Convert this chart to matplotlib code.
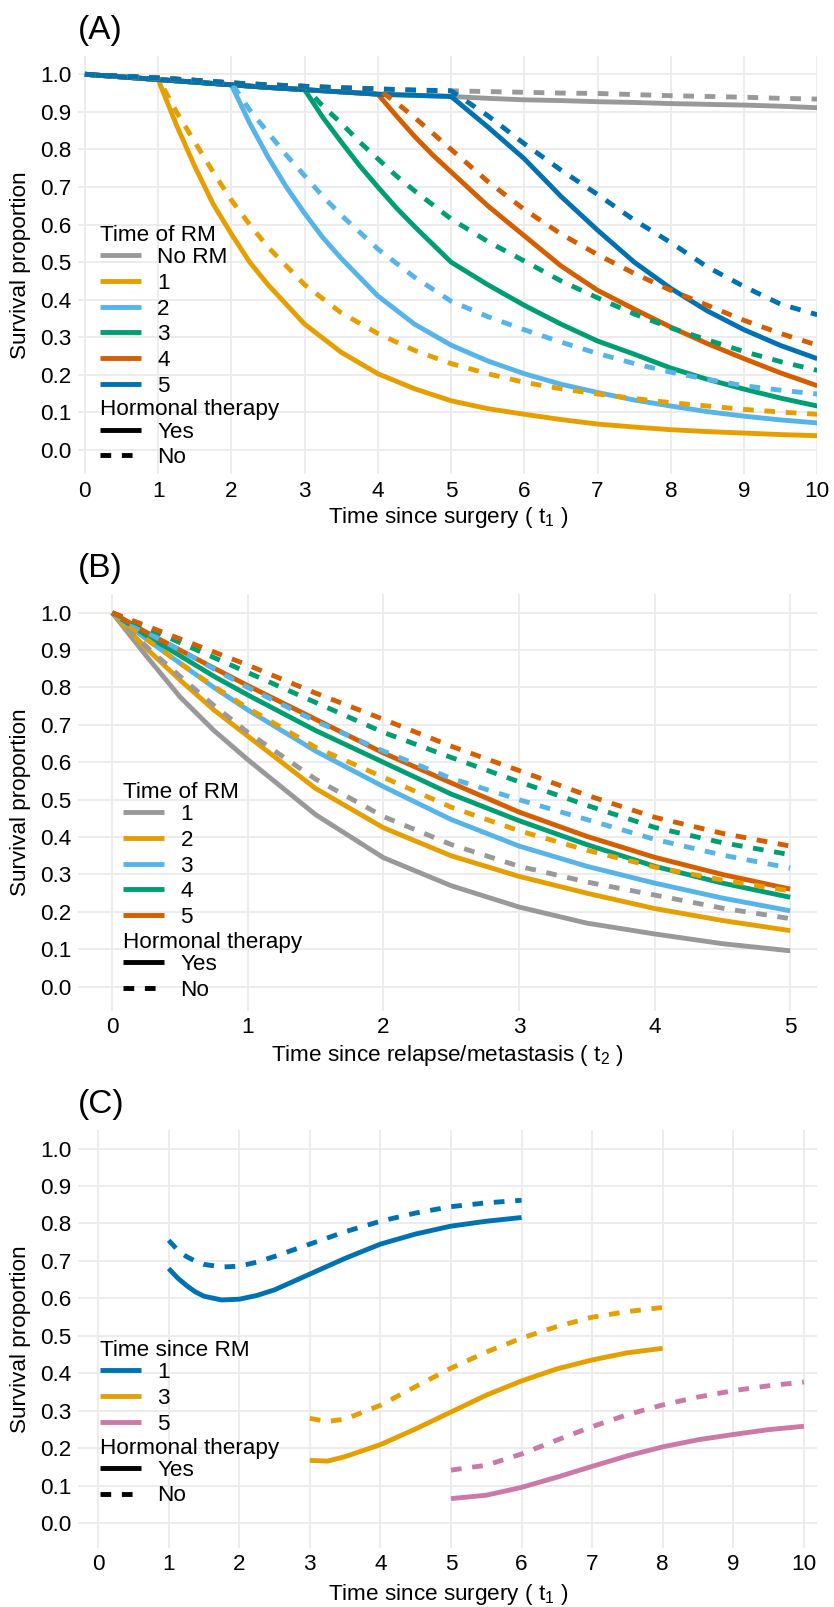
import matplotlib.pyplot as plt
from matplotlib.lines import Line2D
from matplotlib import transforms

plt.rcParams['font.family'] = ['Liberation Sans', 'DejaVu Sans']
plt.rcParams['mathtext.default'] = 'regular'

# Okabe-Ito colours
GREY = '#999999'
ORANGE = '#E69F00'
SKY = '#56B4E9'
GREEN = '#009E73'
VERMILLION = '#D55E00'
BLUE = '#0072B2'
PINK = '#CC79A7'

# ---------------- panel A: survival by time of RM ----------------
time_a = [0, 0.5, 1, 1.5, 2, 2.5, 3, 3.5, 4, 4.5, 5,
          5.5, 6, 6.5, 7, 7.5, 8, 8.5, 9, 9.5, 10]
norm_yes = [1.0, 0.993, 0.986, 0.979, 0.972, 0.965, 0.959, 0.953, 0.947, 0.944, 0.941,
            0.936, 0.932, 0.930, 0.927, 0.925, 0.922, 0.920, 0.918, 0.915, 0.911]
norm_no = [1.0, 0.995, 0.990, 0.984, 0.977, 0.972, 0.968, 0.964, 0.961, 0.958, 0.956,
           0.954, 0.952, 0.950, 0.949, 0.946, 0.943, 0.941, 0.939, 0.936, 0.934]

# curves after the RM time
rm1_t = [1.25, 1.5, 1.75, 2, 2.25, 2.5, 3, 3.5, 4, 4.5, 5, 5.5, 6, 6.5, 7, 7.5, 8, 8.5, 9, 9.5, 10]
rm1_yes = [0.865, 0.755, 0.655, 0.575, 0.5, 0.44, 0.335, 0.26, 0.203, 0.163, 0.131,
           0.11, 0.095, 0.081, 0.069, 0.061, 0.054, 0.049, 0.045, 0.041, 0.038]
rm1_no = [0.9, 0.82, 0.74, 0.665, 0.6, 0.54, 0.44, 0.365, 0.31, 0.265, 0.23,
          0.203, 0.18, 0.163, 0.149, 0.137, 0.126, 0.117, 0.108, 0.101, 0.095]
rm2_t = [2.25, 2.5, 2.75, 3, 3.25, 3.5, 4, 4.5, 5, 5.5, 6, 6.5, 7, 7.5, 8, 8.5, 9, 9.5, 10]
rm2_yes = [0.87, 0.78, 0.7, 0.63, 0.565, 0.51, 0.41, 0.335, 0.279, 0.237,
           0.203, 0.175, 0.153, 0.133, 0.117, 0.102, 0.09, 0.08, 0.072]
rm2_no = [0.905, 0.845, 0.785, 0.73, 0.675, 0.625, 0.535, 0.46, 0.396, 0.355,
          0.32, 0.287, 0.257, 0.23, 0.207, 0.188, 0.171, 0.159, 0.149]
rm3_t = [3.25, 3.5, 3.75, 4, 4.25, 4.5, 5, 5.5, 6, 6.5, 7, 7.5, 8, 8.5, 9, 9.5, 10]
rm3_yes = [0.885, 0.82, 0.757, 0.70, 0.645, 0.595, 0.50, 0.44, 0.385, 0.335,
           0.29, 0.255, 0.218, 0.188, 0.162, 0.138, 0.117]
rm3_no = [0.915, 0.87, 0.82, 0.775, 0.73, 0.69, 0.615, 0.555, 0.503, 0.45,
          0.405, 0.362, 0.325, 0.293, 0.262, 0.235, 0.212]
rm4_t = [4.25, 4.5, 4.75, 5, 5.5, 6, 6.5, 7, 7.5, 8, 8.5, 9, 9.5, 10]
rm4_yes = [0.89, 0.835, 0.785, 0.74, 0.65, 0.57, 0.49, 0.425, 0.375, 0.327, 0.283, 0.243, 0.205, 0.171]
rm4_no = [0.925, 0.885, 0.843, 0.80, 0.715, 0.64, 0.575, 0.52, 0.47, 0.425, 0.385, 0.345, 0.31, 0.279]
rm5_t = [5.5, 6, 6.5, 7, 7.5, 8, 8.5, 9, 9.5, 10]
rm5_yes = [0.86, 0.775, 0.675, 0.585, 0.50, 0.43, 0.37, 0.32, 0.278, 0.243]
rm5_no = [0.89, 0.815, 0.745, 0.68, 0.612, 0.552, 0.487, 0.435, 0.388, 0.36]
rm_times = [1, 2, 3, 4, 5]
labels_a = ['No RM', '1', '2', '3', '4', '5']
colors_a = [GREY, ORANGE, SKY, GREEN, VERMILLION, BLUE]

# ---------------- panel B: survival after relapse/metastasis ----------------
time_b = [0, 0.25, 0.5, 0.75, 1, 1.5, 2, 2.5, 3, 3.5, 4, 4.5, 5]
b_yes = [
    [1.0, 0.885, 0.775, 0.685, 0.607, 0.46, 0.345, 0.27, 0.213, 0.17, 0.141, 0.115, 0.096],
    [1.0, 0.905, 0.82, 0.74, 0.67, 0.53, 0.425, 0.35, 0.295, 0.25, 0.209, 0.177, 0.15],
    [1.0, 0.93, 0.865, 0.8, 0.74, 0.63, 0.535, 0.447, 0.376, 0.322, 0.277, 0.237, 0.203],
    [1.0, 0.94, 0.885, 0.83, 0.78, 0.685, 0.6, 0.515, 0.444, 0.38, 0.322, 0.277, 0.239],
    [1.0, 0.948, 0.9, 0.852, 0.805, 0.715, 0.625, 0.545, 0.467, 0.402, 0.346, 0.3, 0.261],
]
b_no = [
    [1.0, 0.91, 0.83, 0.752, 0.68, 0.555, 0.455, 0.38, 0.322, 0.28, 0.245, 0.21, 0.182],
    [1.0, 0.93, 0.865, 0.803, 0.745, 0.64, 0.56, 0.48, 0.417, 0.365, 0.32, 0.285, 0.256],
    [1.0, 0.948, 0.9, 0.85, 0.8, 0.71, 0.63, 0.557, 0.5, 0.447, 0.394, 0.352, 0.317],
    [1.0, 0.96, 0.92, 0.88, 0.84, 0.76, 0.68, 0.613, 0.548, 0.485, 0.426, 0.385, 0.353],
    [1.0, 0.965, 0.93, 0.895, 0.86, 0.785, 0.715, 0.643, 0.578, 0.512, 0.453, 0.41, 0.376],
]
labels_b = ['1', '2', '3', '4', '5']
colors_b = [GREY, ORANGE, SKY, GREEN, VERMILLION]

# ---------------- panel C: conditional survival by time since RM ----------------
time_c1 = [1, 1.125, 1.25, 1.375, 1.5, 1.75, 2, 2.25, 2.5, 3, 3.5, 4, 4.5, 5, 5.5, 6]
c1_yes = [0.68, 0.655, 0.635, 0.618, 0.606, 0.596, 0.598, 0.608, 0.623,
          0.665, 0.707, 0.745, 0.772, 0.793, 0.806, 0.816]
c1_no = [0.755, 0.73, 0.712, 0.7, 0.691, 0.684, 0.686, 0.697, 0.712,
         0.745, 0.778, 0.806, 0.828, 0.845, 0.855, 0.862]
time_c3 = [3, 3.25, 3.5, 4, 4.5, 5, 5.5, 6, 6.5, 7, 7.5, 8]
c3_yes = [0.168, 0.166, 0.178, 0.21, 0.252, 0.297, 0.342, 0.38, 0.412, 0.436, 0.455, 0.467]
c3_no = [0.28, 0.272, 0.278, 0.315, 0.365, 0.414, 0.457, 0.494, 0.525, 0.55, 0.565, 0.576]
time_c5 = [5, 5.5, 6, 6.5, 7, 7.5, 8, 8.5, 9, 9.5, 10]
c5_yes = [0.066, 0.075, 0.096, 0.123, 0.152, 0.18, 0.204, 0.223, 0.237, 0.25, 0.259]
c5_no = [0.142, 0.155, 0.185, 0.222, 0.258, 0.29, 0.316, 0.337, 0.354, 0.367, 0.377]
labels_c = ['1', '3', '5']
colors_c = [BLUE, ORANGE, PINK]

y_ticks = [i / 10 for i in range(11)]

# ---------------- figure ----------------
W, H = 834, 1607
FS = 16.2
LW = 3.5
DASH = (0, (2.2, 2.2))

fig = plt.figure(figsize=(W / 100, H / 100), dpi=100)


def panel(top, bottom, xlim, ylim, xticks, xlabel, lab_top, letter, letter_y):
    left, right = 78.3, 817.3
    ax = fig.add_axes([left / W, 1 - bottom / H, (right - left) / W, (bottom - top) / H])
    for s in ax.spines.values():
        s.set_visible(False)
    ax.grid(True, color='#EBEBEB', lw=1.3)
    ax.set_axisbelow(True)
    ax.set_xlim(*xlim)
    ax.set_ylim(*ylim)
    ax.set_xticks(xticks)
    ax.set_yticks(y_ticks)
    ax.set_yticklabels([f'{v:.1f}' for v in y_ticks])
    ax.tick_params(length=0, labelsize=FS, labelcolor='black')
    ax.tick_params(axis='y', pad=4.9)
    ax.tick_params(axis='x', pad=4.5)
    ax.set_xlabel(xlabel, fontsize=FS)
    ax.set_ylabel('Survival proportion', fontsize=FS)
    ax.xaxis.set_label_coords(0.5, 1 - lab_top / H,
                              transform=transforms.blended_transform_factory(ax.transAxes, fig.transFigure))
    ax.yaxis.set_label_coords(31 / W, 0.5,
                              transform=transforms.blended_transform_factory(fig.transFigure, ax.transAxes))
    fig.text(left / W, 1 - letter_y / H, letter, fontsize=24, va='center', ha='left')
    return ax


def solid(ax, x, y, c):
    ax.plot(x, y, color=c, lw=LW, solid_capstyle='butt', solid_joinstyle='round')


def dashed(ax, x, y, c):
    ax.plot(x, y, color=c, lw=LW, linestyle=DASH, dash_capstyle='butt')


def legends(ax, title, labels, colors, x, top1, top2):
    kw = dict(loc='upper left', bbox_transform=fig.transFigure, frameon=False,
              fontsize=FS, title_fontsize=FS, alignment='left', handlelength=1.8,
              handletextpad=0.75, borderpad=0, borderaxespad=0, labelspacing=0.21)
    hs = [Line2D([], [], color=c, lw=LW, solid_capstyle='butt') for c in colors]
    leg = ax.legend(hs, labels, title=title, bbox_to_anchor=(x / W, 1 - top1 / H), **kw)
    leg._legend_box.sep = 0.8  # tighter gap under the legend title
    ax.add_artist(leg)
    ht = [Line2D([], [], color='black', lw=LW, solid_capstyle='butt'),
          Line2D([], [], color='black', lw=LW, linestyle=DASH, dash_capstyle='butt')]
    leg2 = ax.legend(ht, ['Yes', 'No'], title='Hormonal therapy',
                     bbox_to_anchor=(x / W, 1 - top2 / H), **kw)
    leg2._legend_box.sep = 0.8


# ---- (A) ----
ax = panel(55.5, 474.4, (-0.09, 10.0), (-0.065, 1.05), range(0, 11),
           'Time since surgery ( $t_1$ )', 505, '(A)', 31)
after_t = [rm1_t, rm2_t, rm3_t, rm4_t, rm5_t]
after_yes = [rm1_yes, rm2_yes, rm3_yes, rm4_yes, rm5_yes]
after_no = [rm1_no, rm2_no, rm3_no, rm4_no, rm5_no]
full_t = [time_a] + [time_a[:2 * k + 1] + t for k, t in zip(rm_times, after_t)]
full_yes = [norm_yes] + [norm_yes[:2 * k + 1] + v for k, v in zip(rm_times, after_yes)]
full_no = [norm_no] + [norm_no[:2 * k + 1] + v for k, v in zip(rm_times, after_no)]
for t, y, c in zip(full_t, full_yes, colors_a):
    solid(ax, t, y, c)
for t, y, c in zip(full_t, full_no, colors_a):
    dashed(ax, t, y, c)
legends(ax, 'Time of RM', labels_a, colors_a, 100, 225, 399.4)

# ---- (B) ----
ax = panel(594, 1011, (-0.25, 5.2), (-0.065, 1.05), range(0, 6),
           'Time since relapse/metastasis ( $t_2$ )', 1043, '(B)', 569)
for y, c in zip(b_yes, colors_b):
    solid(ax, time_b, y, c)
for y, c in zip(b_no, colors_b):
    dashed(ax, time_b, y, c)
legends(ax, 'Time of RM', labels_b, colors_b, 123, 782, 931.7)

# ---- (C) ----
ax = panel(1129.8, 1547.7, (-0.28, 10.19), (-0.065, 1.05), range(0, 11),
           'Time since surgery ( $t_1$ )', 1582, '(C)', 1105)
for x, y, c in zip([time_c1, time_c3, time_c5], [c1_yes, c3_yes, c5_yes], colors_c):
    solid(ax, x, y, c)
for x, y, c in zip([time_c1, time_c3, time_c5], [c1_no, c3_no, c5_no], colors_c):
    dashed(ax, x, y, c)
legends(ax, 'Time since RM', labels_c, colors_c, 100, 1340, 1437.6)

fig.savefig('out.png', dpi=100, facecolor='white')
